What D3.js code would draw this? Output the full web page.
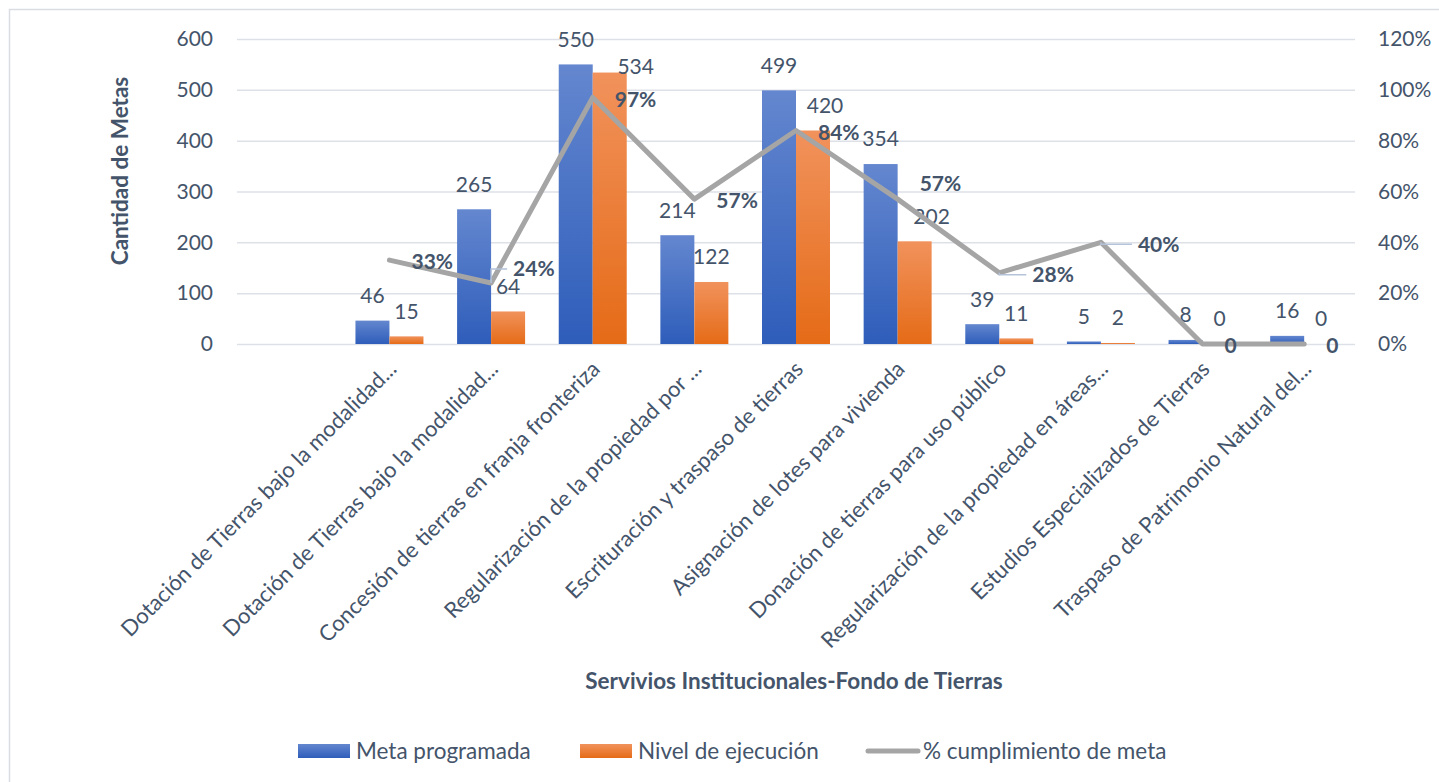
<!DOCTYPE html>
<html>
<head>
<meta charset="utf-8">
<script src="https://cdn.jsdelivr.net/npm/d3@7"></script>
<style>
  html, body { margin: 0; padding: 0; background: #fff; }
  svg { display: block; font-family: Lato, "Open Sans", sans-serif; }
</style>
</head>
<body>
<script>
// first slot is empty in the source sheet
const categories = [
  '',
  'Dotación de Tierras bajo la modalidad...',
  'Dotación de Tierras bajo la modalidad...',
  'Concesión de tierras en franja fronteriza',
  'Regularización de la propiedad por ...',
  'Escrituración y traspaso de tierras',
  'Asignación de lotes para vivienda',
  'Donación de tierras para uso público',
  'Regularización de la propiedad en áreas...',
  'Estudios Especializados de Tierras',
  'Traspaso de Patrimonio Natural del...'
]
const metaProgramada = [null, 46, 265, 550, 214, 499, 354, 39, 5, 8, 16]
const nivelEjecucion = [null, 15, 64, 534, 122, 420, 202, 11, 2, 0, 0]
const cumplimiento = [null, 33, 24, 97, 57, 84, 57, 28, 40, 0, 0]
const leftTicks = [0, 100, 200, 300, 400, 500, 600]
const rightTicks = [0, 20, 40, 60, 80, 100, 120]

// hand-moved labels in the original (index -> offset)
const barLabelNudge = { 3: [26, 19], 5: [12, 0], 6: [17, 0] }
const pctLabelNudge = { 2: [0, -16], 6: [0, -17], 7: [11, 0], 8: [15, 0] }
const withLeader = [2, 7, 8]

const width = 1439, height = 782
const margin = { top: 39, right: 84, bottom: 438, left: 237 }
const textColor = '#44546a'

const svg = d3.select('body').append('svg')
  .attr('width', width)
  .attr('height', height)

// gradients for the bars
const defs = svg.append('defs')
const grad = (id, top, bottom) => {
  const g = defs.append('linearGradient').attr('id', id)
    .attr('x1', 0).attr('y1', 0).attr('x2', 0).attr('y2', 1)
  g.append('stop').attr('offset', '0%').attr('stop-color', top)
  g.append('stop').attr('offset', '100%').attr('stop-color', bottom)
}
grad('gBlue', '#6487cf', '#2e5dba')
grad('gOrange', '#f1925c', '#e56b17')

svg.append('rect')
  .attr('x', 9.5).attr('y', 9.5)
  .attr('width', 1500).attr('height', 1000)
  .attr('fill', 'none').attr('stroke', '#d9dde3').attr('stroke-width', 1.5)

const x = d3.scaleBand()
  .domain(d3.range(categories.length))
  .range([margin.left, width - margin.right])
  .paddingInner(0.331)
  .paddingOuter(0.1655)

const sub = d3.scaleBand()
  .domain(['meta', 'ejec'])
  .range([0, x.bandwidth()])

const y = d3.scaleLinear().domain([0, 600]).range([height - margin.bottom, margin.top])
const y2 = d3.scaleLinear().domain([0, 120]).range([height - margin.bottom, margin.top])

const center = (i) => x(i) + x.bandwidth() / 2

// gridlines
svg.append('g')
  .attr('transform', `translate(${margin.left},0)`)
  .call(d3.axisLeft(y).tickValues(leftTicks).tickSize(-(width - margin.left - margin.right)).tickFormat(''))
  .call(g => g.select('.domain').remove())
  .call(g => g.selectAll('line').attr('stroke', '#dde1e7').attr('stroke-width', 1.5))

// left axis labels
svg.append('g')
  .attr('transform', `translate(${margin.left - 24},0)`)
  .call(d3.axisLeft(y).tickValues(leftTicks).tickSize(0).tickPadding(0))
  .call(g => g.select('.domain').remove())
  .call(g => g.selectAll('text').attr('fill', textColor).style('font-size', '21px').style('font-family', 'Lato'))

// right axis labels
svg.append('g')
  .attr('transform', `translate(${width - margin.right + 23},0)`)
  .call(d3.axisRight(y2).tickValues(rightTicks).tickSize(0).tickPadding(0).tickFormat(d => d + '%'))
  .call(g => g.select('.domain').remove())
  .call(g => g.selectAll('text').attr('fill', textColor).style('font-size', '21px').style('font-family', 'Lato'))

// bars
const rows = categories.map((c, i) => ({ i, meta: metaProgramada[i], ejec: nivelEjecucion[i], pct: cumplimiento[i] }))
  .filter(d => d.meta !== null)

const bars = svg.append('g')
bars.selectAll('.meta').data(rows).enter().append('rect')
  .attr('x', d => x(d.i) + sub('meta'))
  .attr('y', d => y(d.meta))
  .attr('width', sub.bandwidth())
  .attr('height', d => y(0) - y(d.meta))
  .attr('fill', 'url(#gBlue)')
bars.selectAll('.ejec').data(rows).enter().append('rect')
  .attr('x', d => x(d.i) + sub('ejec'))
  .attr('y', d => y(d.ejec))
  .attr('width', sub.bandwidth())
  .attr('height', d => y(0) - y(d.ejec))
  .attr('fill', 'url(#gOrange)')

// bar value labels
const labels = svg.append('g').attr('fill', textColor).style('font-size', '21px').attr('text-anchor', 'middle')
labels.selectAll('.lm').data(rows).enter().append('text')
  .attr('x', d => x(d.i) + sub('meta') + sub.bandwidth() / 2)
  .attr('y', d => y(d.meta) - 25)
  .attr('dy', '0.35em')
  .text(d => d.meta)
labels.selectAll('.le').data(rows).enter().append('text')
  .attr('x', d => x(d.i) + sub('ejec') + sub.bandwidth() / 2 + (barLabelNudge[d.i] ? barLabelNudge[d.i][0] : 0))
  .attr('y', d => y(d.ejec) - 25 + (barLabelNudge[d.i] ? barLabelNudge[d.i][1] : 0))
  .attr('dy', '0.35em')
  .text(d => d.ejec)

// line
const line = d3.line().x(d => center(d.i)).y(d => y2(d.pct))
svg.append('path')
  .datum(rows)
  .attr('d', line)
  .attr('fill', 'none')
  .attr('stroke', '#a5a5a5')
  .attr('stroke-width', 5)
  .attr('stroke-linejoin', 'round')
  .attr('stroke-linecap', 'round')

// percent labels (+ leader lines where moved)
const pctPos = (d) => {
  const n = pctLabelNudge[d.i] || [0, 0]
  return [center(d.i) + 22 + n[0], y2(d.pct) + 2 + n[1]]
}
svg.append('g').selectAll('path').data(rows.filter(d => withLeader.includes(d.i))).enter().append('path')
  .attr('d', d => {
    const [lx, ly] = pctPos(d)
    const px = center(d.i), py = y2(d.pct)
    return `M${px},${py}L${px},${ly}L${lx - 6},${ly}`
  })
  .attr('fill', 'none')
  .attr('stroke', '#b4c3d9')
  .attr('stroke-width', 1.5)

svg.append('g').attr('fill', textColor).style('font-size', '21px').style('font-weight', 'bold')
  .selectAll('text').data(rows).enter().append('text')
  .attr('x', d => pctPos(d)[0])
  .attr('y', d => pctPos(d)[1])
  .attr('dy', '0.35em')
  .text(d => d.pct === 0 ? '0' : d.pct + '%')

// category labels, rotated
svg.append('g').attr('fill', textColor).style('font-size', '22px').attr('text-anchor', 'end')
  .selectAll('text').data(categories.map((c, i) => ({ c, i })).filter(d => d.c)).enter().append('text')
  .attr('transform', d => `translate(${center(d.i) + 3},${y(0) + 21}) rotate(-45)`)
  .attr('dy', '0.35em')
  .text(d => d.c)

// axis titles
svg.append('text')
  .attr('transform', `translate(120,171) rotate(-90)`)
  .attr('text-anchor', 'middle')
  .attr('dy', '0.35em')
  .attr('fill', textColor)
  .style('font-size', '22.5px').style('font-weight', 'bold')
  .text('Cantidad de Metas')

svg.append('text')
  .attr('x', 794).attr('y', 681)
  .attr('text-anchor', 'middle')
  .attr('dy', '0.35em')
  .attr('fill', textColor)
  .style('font-size', '22.5px').style('font-weight', 'bold')
  .text('Servivios Institucionales-Fondo de Tierras')

// legend
const legend = svg.append('g').attr('transform', 'translate(0,751)')
  .style('font-size', '22.5px').attr('fill', textColor)
legend.append('rect').attr('x', 298).attr('y', -7).attr('width', 52).attr('height', 14).attr('fill', 'url(#gBlue)')
legend.append('text').attr('x', 356).attr('dy', '0.35em').text('Meta programada')
legend.append('rect').attr('x', 580).attr('y', -7).attr('width', 52).attr('height', 14).attr('fill', 'url(#gOrange)')
legend.append('text').attr('x', 638).attr('dy', '0.35em').text('Nivel de ejecución')
legend.append('line').attr('x1', 868).attr('x2', 918).attr('stroke', '#a5a5a5').attr('stroke-width', 5).attr('stroke-linecap', 'round')
legend.append('text').attr('x', 923).attr('dy', '0.35em').text('% cumplimiento de meta')
</script>
</body>
</html>
